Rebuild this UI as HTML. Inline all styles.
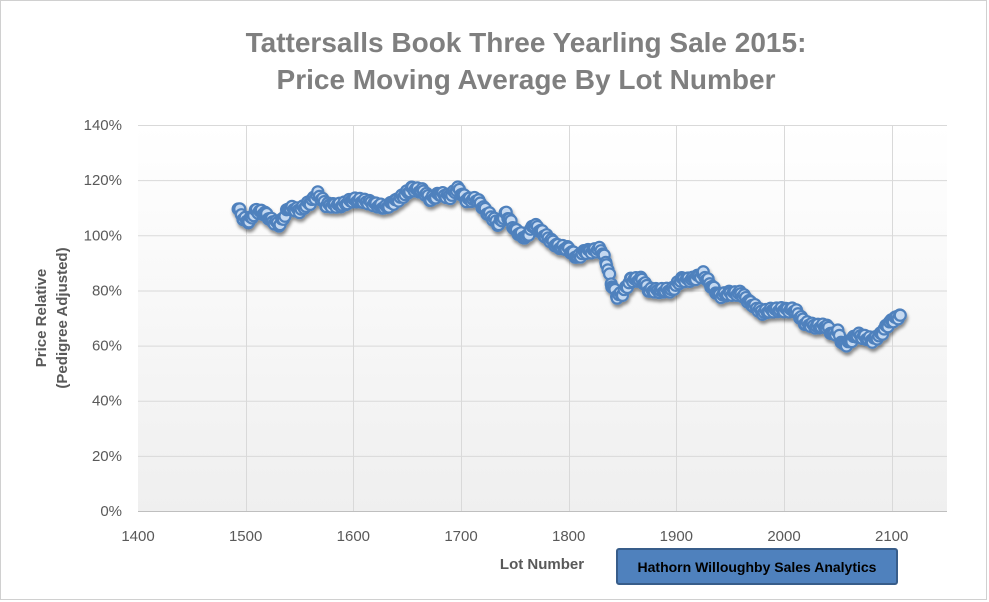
<!DOCTYPE html>
<html><head><meta charset="utf-8"><style>
body{margin:0;background:#fff;}
svg{display:block;font-family:"Liberation Sans",sans-serif;}
</style></head><body>
<svg width="989" height="602" viewBox="0 0 989 602" xmlns="http://www.w3.org/2000/svg">
<defs>
<linearGradient id="bg" x1="0" y1="0" x2="0" y2="1"><stop offset="0" stop-color="#ffffff"/><stop offset="1" stop-color="#efefef"/></linearGradient>
<filter id="sh" x="-5%" y="-20%" width="110%" height="140%"><feDropShadow dx="1" dy="3" stdDeviation="1.5" flood-color="#000" flood-opacity="0.45"/></filter>
</defs>
<rect x="0.5" y="0.5" width="986" height="599" fill="#fff" stroke="#d0d0d0"/>
<text x="526" y="52" text-anchor="middle" font-size="28" font-weight="bold" fill="#7f7f7f">Tattersalls Book Three Yearling Sale 2015:</text>
<text x="526" y="89" text-anchor="middle" font-size="28" font-weight="bold" fill="#7f7f7f">Price Moving Average By Lot Number</text>
<rect x="138" y="125" width="809" height="386" fill="url(#bg)"/>
<g id="grid" stroke="#d9d9d9" stroke-width="1"></g>
<line x1="138" y1="511.5" x2="947" y2="511.5" stroke="#bfbfbf"/>
<g id="yl" font-size="15" fill="#595959" text-anchor="end"></g>
<g id="xl" font-size="15" fill="#595959" text-anchor="middle"></g>
<text x="542" y="569" text-anchor="middle" font-size="15" font-weight="bold" fill="#595959">Lot Number</text>
<text transform="translate(46,318) rotate(-90)" text-anchor="middle" font-size="15" font-weight="bold" fill="#595959">Price Relative</text>
<text transform="translate(67,318) rotate(-90)" text-anchor="middle" font-size="15" font-weight="bold" fill="#595959">(Pedigree Adjusted)</text>
<g id="pts" filter="url(#sh)"></g>
<rect x="617" y="549" width="280" height="35" rx="2" fill="#4f81bd" stroke="#385d8a" stroke-width="2"/>
<text x="757" y="572" text-anchor="middle" font-size="14" font-weight="bold" fill="#000">Hathorn Willoughby Sales Analytics</text>
</svg>
<script>
var NS="http://www.w3.org/2000/svg";
function X(l){return 138+(l-1400)*1.0767;}
function Y(p){return 511-p*2.757;}
function el(t,a,p){var e=document.createElementNS(NS,t);for(var k in a)e.setAttribute(k,a[k]);p.appendChild(e);return e;}
var g=document.getElementById('grid');
for(var p=20;p<=140;p+=20)el('line',{x1:138,x2:947,y1:Y(p)+.5,y2:Y(p)+.5},g);
for(var l=1500;l<=2100;l+=100)el('line',{x1:Math.round(X(l))+.5,x2:Math.round(X(l))+.5,y1:125,y2:511},g);
var yl=document.getElementById('yl');
for(var p=0;p<=140;p+=20){var t=el('text',{x:122,y:Y(p)+5},yl);t.textContent=p+'%';}
var xl=document.getElementById('xl');
for(var l=1400;l<=2100;l+=100){var t=el('text',{x:X(l),y:541},xl);t.textContent=l;}
var k=[[1493,110],[1498,106],[1503,105],[1510,109],[1518,108],[1525,105],[1532,104],[1540,110],[1550,109],[1560,112],[1567,115],[1575,111],[1590,111],[1600,113],[1615,112],[1630,110],[1645,114],[1655,117],[1665,116],[1672,113],[1680,115],[1690,114],[1697,117],[1705,113],[1715,113],[1725,108],[1735,104],[1742,108],[1750,102],[1760,99],[1768,104],[1778,100],[1790,96],[1800,95],[1808,92],[1815,94],[1830,95],[1835,90],[1840,82],[1845,78],[1850,79],[1858,84],[1868,84],[1875,80],[1885,80],[1895,80],[1905,84],[1915,84],[1925,86],[1932,82],[1940,78],[1950,79],[1960,79],[1970,75],[1980,72],[1990,73],[2000,73],[2010,73],[2020,68],[2030,67],[2040,67],[2045,64],[2050,65],[2055,60],[2060,61],[2068,64],[2075,63],[2082,62],[2090,64],[2095,67],[2100,69],[2108,71]];
var pts=document.getElementById('pts');
for(var i=0;i<k.length-1;i++){var a=k[i],b=k[i+1];for(var l=a[0];l<b[0];l+=1.5){var f=(l-a[0])/(b[0]-a[0]);var v=a[1]+(b[1]-a[1])*f+Math.sin(l*1.3)*0.8;
el('circle',{cx:X(l),cy:Y(v),r:5.5,fill:'#c5d9f1',stroke:'#4f81bd','stroke-width':2.2},pts);}}
var z=k[k.length-1];el('circle',{cx:X(z[0]),cy:Y(z[1]),r:5.5,fill:'#c5d9f1',stroke:'#4f81bd','stroke-width':2.2},pts);
</script>
</body></html>
